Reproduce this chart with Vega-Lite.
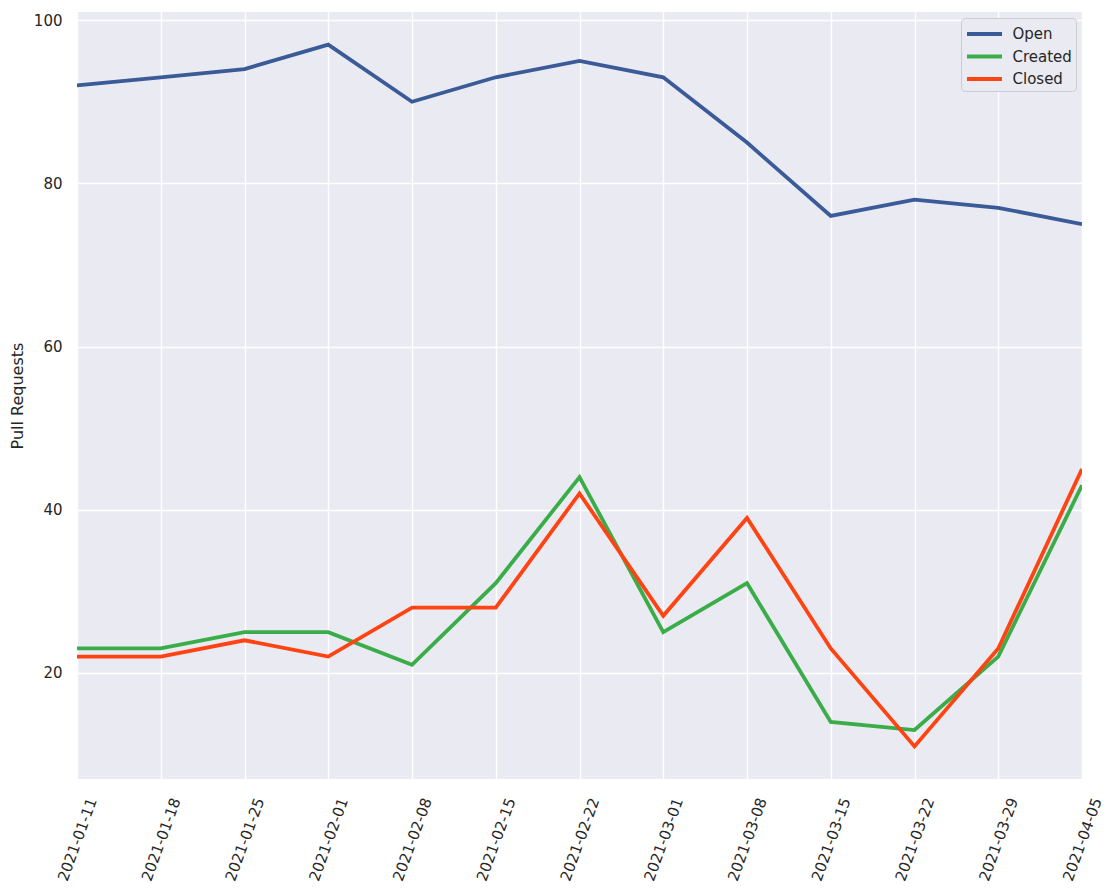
{
  "$schema": "https://vega.github.io/schema/vega-lite/v6.json",
  "width": 1005,
  "height": 767,
  "autosize": "none",
  "padding": {"left": 77, "top": 12, "right": 33, "bottom": 112},
  "background": "white",
  "config": {
    "view": {"fill": "#eaeaf2", "stroke": null},
    "font": "DejaVu Sans",
    "axis": {"labelFont": "DejaVu Sans", "titleFont": "DejaVu Sans", "labelColor": "#262626", "titleColor": "#262626", "labelFontSize": 15, "titleFontSize": 16, "titleFontWeight": "normal", "gridColor": "white", "gridWidth": 1.4, "domain": false, "ticks": false}
  },
  "data": {"values": [
    {"date": "2021-01-11", "series": "Open", "value": 92},
    {"date": "2021-01-18", "series": "Open", "value": 93},
    {"date": "2021-01-25", "series": "Open", "value": 94},
    {"date": "2021-02-01", "series": "Open", "value": 97},
    {"date": "2021-02-08", "series": "Open", "value": 90},
    {"date": "2021-02-15", "series": "Open", "value": 93},
    {"date": "2021-02-22", "series": "Open", "value": 95},
    {"date": "2021-03-01", "series": "Open", "value": 93},
    {"date": "2021-03-08", "series": "Open", "value": 85},
    {"date": "2021-03-15", "series": "Open", "value": 76},
    {"date": "2021-03-22", "series": "Open", "value": 78},
    {"date": "2021-03-29", "series": "Open", "value": 77},
    {"date": "2021-04-05", "series": "Open", "value": 75},
    {"date": "2021-01-11", "series": "Created", "value": 23},
    {"date": "2021-01-18", "series": "Created", "value": 23},
    {"date": "2021-01-25", "series": "Created", "value": 25},
    {"date": "2021-02-01", "series": "Created", "value": 25},
    {"date": "2021-02-08", "series": "Created", "value": 21},
    {"date": "2021-02-15", "series": "Created", "value": 31},
    {"date": "2021-02-22", "series": "Created", "value": 44},
    {"date": "2021-03-01", "series": "Created", "value": 25},
    {"date": "2021-03-08", "series": "Created", "value": 31},
    {"date": "2021-03-15", "series": "Created", "value": 14},
    {"date": "2021-03-22", "series": "Created", "value": 13},
    {"date": "2021-03-29", "series": "Created", "value": 22},
    {"date": "2021-04-05", "series": "Created", "value": 43},
    {"date": "2021-01-11", "series": "Closed", "value": 22},
    {"date": "2021-01-18", "series": "Closed", "value": 22},
    {"date": "2021-01-25", "series": "Closed", "value": 24},
    {"date": "2021-02-01", "series": "Closed", "value": 22},
    {"date": "2021-02-08", "series": "Closed", "value": 28},
    {"date": "2021-02-15", "series": "Closed", "value": 28},
    {"date": "2021-02-22", "series": "Closed", "value": 42},
    {"date": "2021-03-01", "series": "Closed", "value": 27},
    {"date": "2021-03-08", "series": "Closed", "value": 39},
    {"date": "2021-03-15", "series": "Closed", "value": 23},
    {"date": "2021-03-22", "series": "Closed", "value": 11},
    {"date": "2021-03-29", "series": "Closed", "value": 23},
    {"date": "2021-04-05", "series": "Closed", "value": 45}
  ]},
  "mark": {"type": "line", "strokeWidth": 3.8, "clip": true},
  "encoding": {
    "x": {"field": "date", "type": "ordinal", "scale": {"type": "point", "padding": 0}, "axis": {"title": null, "labelAngle": -70, "labelAlign": "center", "labelBaseline": "middle", "labelPadding": 60, "grid": true}},
    "y": {"field": "value", "type": "quantitative", "scale": {"domain": [7, 101], "nice": false, "zero": false}, "axis": {"title": "Pull Requests", "values": [20, 40, 60, 80, 100], "labelPadding": 15, "titlePadding": 8}},
    "color": {"field": "series", "type": "nominal", "sort": ["Open", "Created", "Closed"],
      "scale": {"domain": ["Open", "Created", "Closed"], "range": ["#3b5a98", "#3aad48", "#ff4312"]},
      "legend": {"title": null, "orient": "top-right", "offset": 6, "symbolType": "M-1.75,0H1.75", "symbolStrokeWidth": 3.8, "symbolSize": 400, "symbolOffset": 7.5, "labelFontSize": 15, "labelColor": "#262626", "fillColor": "#eaeaf2", "strokeColor": "#cccccc", "cornerRadius": 4, "padding": 4, "rowPadding": 2.5, "labelOffset": 16}
    }
  }
}
